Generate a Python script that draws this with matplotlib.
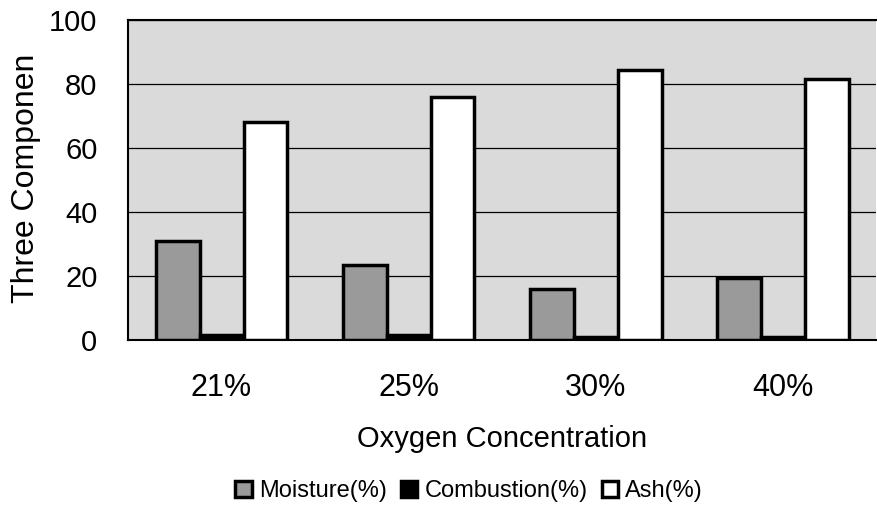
import matplotlib.pyplot as plt
import numpy as np

plt.rcParams['font.family'] = ['Liberation Sans', 'DejaVu Sans']

# data
categories = ['21%', '25%', '30%', '40%']
moisture = [31, 23.5, 16, 19.5]
combustion = [1.5, 1.5, 0.8, 0.8]
ash = [68, 76, 84.5, 81.5]

x = np.arange(len(categories))
w = 0.235

fig = plt.figure(figsize=(8.77, 5.31), dpi=100)
ax = fig.add_axes([0.146, 0.36, 0.853, 0.602])
ax.set_facecolor('#dadada')

ax.bar(x - w, moisture, w, color='#9a9a9a', edgecolor='black', linewidth=2.5, label='Moisture(%)', zorder=3)
ax.bar(x, combustion, w, color='black', edgecolor='black', linewidth=2.5, label='Combustion(%)', zorder=3)
ax.bar(x + w, ash, w, color='white', edgecolor='black', linewidth=2.5, label='Ash(%)', zorder=3)

ax.set_ylim(0, 100)
ax.set_xlim(-0.5, len(categories) - 0.5)
ax.set_yticks([0, 20, 40, 60, 80, 100])
ax.yaxis.grid(True, color='black', linewidth=0.9, zorder=1)
ax.set_xticks(x)
ax.set_xticklabels(categories)
ax.tick_params(axis='both', length=0, labelsize=22)
ax.tick_params(axis='y', pad=22, labelsize=21)
ax.tick_params(axis='x', pad=24)

for s in ['left', 'top', 'bottom']:
    ax.spines[s].set_linewidth(1.5)
ax.spines['right'].set_visible(False)

ax.set_xlabel('Oxygen Concentration', fontsize=21, labelpad=16)
fig.text(0.03, 0.665, 'Three Componen', fontsize=23, rotation=90,
         ha='center', va='center')

fig.legend(loc='center', bbox_to_anchor=(0.535, 0.075), ncol=3, frameon=False,
           fontsize=17, handlelength=0.7, handleheight=0.7, handletextpad=0.3,
           columnspacing=0.6)

fig.savefig('out.png', dpi=100)
